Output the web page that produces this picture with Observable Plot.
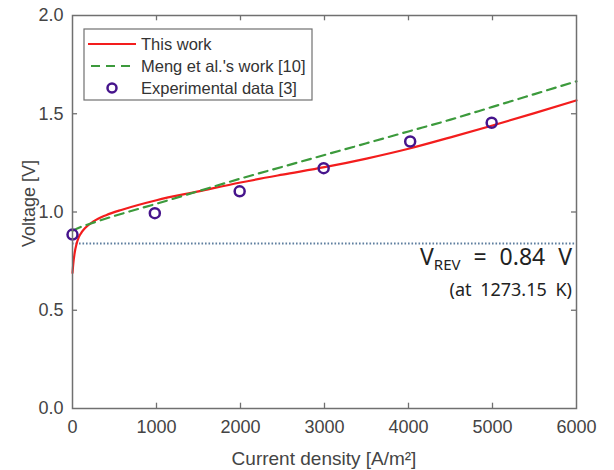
<!DOCTYPE html>
<html><head><meta charset="utf-8">
<script src="https://cdn.jsdelivr.net/npm/d3@7"></script>
<script src="https://cdn.jsdelivr.net/npm/@observablehq/plot@0.6"></script>
<style>
body{margin:0;background:#fff;}
#chart svg{display:block;}
</style>
</head><body><div id="chart"></div>
<script>
// ---- data ----
const thisWorkJ = [0, 10, 25, 50, 75, 110, 150, 250, 400, 600, 1000, 1500, 2000, 2500, 3000, 3500, 4000, 4500, 5000, 5500, 6000];
const thisWorkV = [0.69, 0.74, 0.79, 0.84, 0.872, 0.897, 0.918, 0.952, 0.984, 1.013, 1.06, 1.105, 1.15, 1.19, 1.228, 1.272, 1.322, 1.38, 1.44, 1.503, 1.568];
const mengJ = [0, 100, 250, 500, 1000, 1500, 2000, 2500, 3000, 3500, 4000, 4500, 5000, 5500, 6000];
const mengV = [0.905, 0.924, 0.946, 0.98, 1.042, 1.106, 1.17, 1.23, 1.29, 1.35, 1.41, 1.47, 1.535, 1.60, 1.665];
const expJ = [0, 980, 1990, 2990, 4020, 4990];
const expV = [0.885, 0.994, 1.105, 1.223, 1.359, 1.454];
const vRev = 0.84;
const xTicks = [0, 1000, 2000, 3000, 4000, 5000, 6000];
const yTicks = [0, 0.5, 1.0, 1.5, 2.0];
const seriesNames = ["This work", "Meng et al.'s work [10]", "Experimental data [3]"];
const xLabel = "Current density [A/m²]";
const yLabel = "Voltage [V]";
const annotMain = ["V", "REV", " = 0.84 V"];
const annotSub = "(at 1273.15 K)";

const red = "#f31d1d", green = "#3c9a3c", purple = "#46148c", dotted = "#5f7f9f", frameCol = "#707070";

const thisWork = thisWorkJ.map((j, i) => ({j, v: thisWorkV[i]}));
const meng = mengJ.map((j, i) => ({j, v: mengV[i]}));
const exp = expJ.map((j, i) => ({j, v: expV[i]}));

const plot = Plot.plot({
  width: 614, height: 470,
  marginLeft: 72, marginRight: 38, marginTop: 15, marginBottom: 62,
  style: {fontFamily: "'Liberation Sans', Arial, sans-serif", color: "#444", background: "#fff"},
  x: {domain: [0, 6000]},
  y: {domain: [0, 2]},
  marks: [
    Plot.ruleY([vRev], {y: d => d, stroke: dotted, strokeWidth: 2, strokeDasharray: "1.6,1.9"}),
    Plot.line(thisWork, {x: "j", y: "v", stroke: red, strokeWidth: 2.2, curve: "monotone-x"}),
    Plot.line(meng, {x: "j", y: "v", stroke: green, strokeWidth: 2.2, strokeDasharray: "9,6", curve: "monotone-x"}),
    Plot.dot(exp, {x: "j", y: "v", r: 5, stroke: purple, strokeWidth: 2.5, fill: "none"}),
    Plot.frame({stroke: frameCol, strokeWidth: 1.5}),
    Plot.ruleX(xTicks.slice(1, -1), {x: d => d, y1: 0, y2: 0.027, stroke: frameCol, strokeWidth: 1.3}),
    Plot.ruleX(xTicks.slice(1, -1), {x: d => d, y1: 2, y2: 1.973, stroke: frameCol, strokeWidth: 1.3}),
    Plot.ruleY(yTicks.slice(1, -1), {y: d => d, x1: 0, x2: 60, stroke: frameCol, strokeWidth: 1.3}),
    Plot.ruleY(yTicks.slice(1, -1), {y: d => d, x1: 6000, x2: 5940, stroke: frameCol, strokeWidth: 1.3}),
    Plot.axisX(xTicks, {tickSize: 0, tickPadding: 12, fontSize: 18, label: null, tickFormat: d => String(d)}),
    Plot.axisY(yTicks, {tickSize: 0, tickPadding: 9, fontSize: 18, label: null, tickFormat: d3.format(".1f")})
  ]
});
document.getElementById("chart").appendChild(plot);

const svg = d3.select(plot);
const sx = plot.scale("x"), sy = plot.scale("y");
const xL = sx.apply(0), xR = sx.apply(6000), yT = sy.apply(2), yB = sy.apply(0);

// axis titles
svg.append("text").attr("x", (xL + xR) / 2).attr("y", 465)
  .attr("text-anchor", "middle").attr("font-size", 19).attr("fill", "#444")
  .attr("font-family", "'Liberation Sans', Arial, sans-serif").text(xLabel);
svg.append("text").attr("transform", `translate(35,${(yT + yB) / 2 - 8}) rotate(-90)`)
  .attr("text-anchor", "middle").attr("font-size", 18).attr("fill", "#444")
  .attr("font-family", "'Liberation Sans', Arial, sans-serif").text(yLabel);

// legend
const lg = svg.append("g").attr("font-family", "'Liberation Sans', Arial, sans-serif")
  .attr("font-size", 16.5).attr("fill", "#333").attr("text-anchor", "start");
lg.append("rect").attr("x", 84).attr("y", 29).attr("width", 228).attr("height", 71)
  .attr("fill", "#fff").attr("stroke", "#707070").attr("stroke-width", 1.2);
const rows = [44, 66, 88];
lg.append("line").attr("x1", 88).attr("x2", 136).attr("y1", rows[0]).attr("y2", rows[0]).attr("stroke", red).attr("stroke-width", 2.2);
lg.append("line").attr("x1", 88).attr("x2", 136).attr("y1", rows[1]).attr("y2", rows[1]).attr("stroke", green).attr("stroke-width", 2.2).attr("stroke-dasharray", "9,6").attr("stroke-dashoffset", -3);
lg.append("circle").attr("cx", 112).attr("cy", rows[2]).attr("r", 4.5).attr("fill", "none").attr("stroke", purple).attr("stroke-width", 2.5);
seriesNames.forEach((t, i) => {
  lg.append("text").attr("x", 141).attr("y", rows[i]).attr("dy", "0.36em").attr("text-anchor", "start").text(t);
});

// annotation
const af = "'Noto Sans', 'Open Sans', sans-serif";
const a1 = svg.append("text").attr("x", 572).attr("y", 265).attr("text-anchor", "end")
  .attr("font-family", af).attr("font-size", 23).attr("fill", "#222").attr("word-spacing", 7);
a1.append("tspan").text(annotMain[0]);
a1.append("tspan").attr("font-size", 15).attr("dy", 5).text(annotMain[1]);
a1.append("tspan").attr("dy", -5).attr("xml:space", "preserve").style("white-space", "pre").text(annotMain[2]);
svg.append("text").attr("x", 572).attr("y", 296).attr("text-anchor", "end")
  .attr("font-family", af).attr("font-size", 18).attr("fill", "#222").attr("word-spacing", 4).text(annotSub);
</script>
</body></html>
